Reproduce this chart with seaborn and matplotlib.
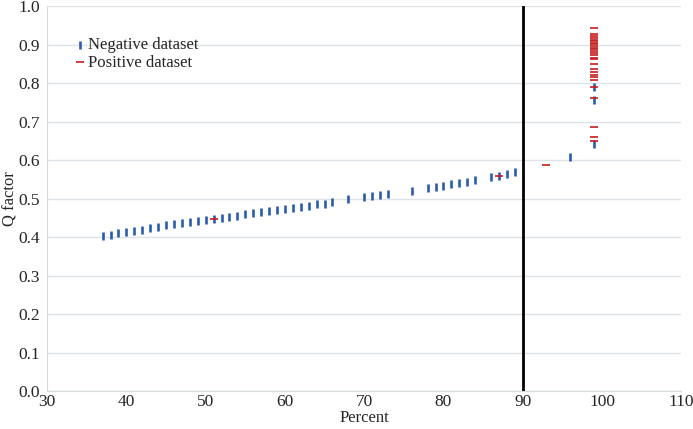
import seaborn as sns
import matplotlib.pyplot as plt
import pandas as pd

# negative dataset (percent, Q factor)
neg_x = [37, 38, 39, 40, 41, 42, 43, 44, 45, 46, 47, 48, 49, 50, 51, 52, 53, 54, 55, 56,
         57, 58, 59, 60, 61, 62, 63, 64, 65, 66, 68, 70, 71, 72, 73, 76, 78, 79, 80, 81,
         82, 83, 84, 86, 87, 88, 89, 96, 99, 99, 99]
neg_q = [0.402, 0.406, 0.410, 0.413, 0.417, 0.419, 0.423, 0.427, 0.431, 0.435, 0.438,
         0.440, 0.442, 0.445, 0.447, 0.450, 0.453, 0.456, 0.459, 0.463, 0.465, 0.468,
         0.471, 0.473, 0.475, 0.478, 0.481, 0.485, 0.487, 0.491, 0.498, 0.503, 0.506,
         0.509, 0.513, 0.521, 0.527, 0.531, 0.534, 0.537, 0.540, 0.544, 0.548, 0.555,
         0.559, 0.564, 0.568, 0.607, 0.790, 0.755, 0.643]

# positive dataset
pos_x = [51, 87, 93] + [99] * 27
pos_q = [0.447, 0.559, 0.588,
         0.944, 0.927, 0.922, 0.918, 0.913, 0.909, 0.905, 0.901, 0.897, 0.892, 0.888,
         0.884, 0.878, 0.872, 0.866, 0.862, 0.850, 0.836, 0.829, 0.822, 0.816, 0.808,
         0.790, 0.760, 0.685, 0.659, 0.650]

cutoff = 90

neg_df = pd.DataFrame({'Percent': neg_x, 'Q': neg_q})
pos_df = pd.DataFrame({'Percent': pos_x, 'Q': pos_q})

sns.set_style('white')
plt.rcParams['font.family'] = ['Liberation Serif', 'DejaVu Serif']

fig = plt.figure(figsize=(6.93, 4.29), dpi=100)
ax = fig.add_axes([0.068, 0.088, 0.915, 0.898])

ax.grid(axis='y', color='#dde3e6', linewidth=1)
ax.set_axisbelow(True)

sns.scatterplot(data=neg_df, x='Percent', y='Q', marker='|', s=30, linewidth=1.9,
                color='#2a5cae', label='Negative dataset', ax=ax, zorder=3)
sns.scatterplot(data=pos_df, x='Percent', y='Q', marker='_', s=30, linewidth=1.2,
                color='#c81e1e', label='Positive dataset', ax=ax, zorder=3)

ax.axvline(cutoff, ymin=0, ymax=1, color='black', linewidth=2, zorder=4)

ax.set_xlim(30, 110)
ax.set_ylim(0, 1.0)
ax.set_xticks(range(30, 111, 10))
ax.set_yticks([i / 10 for i in range(11)])
ax.set_yticklabels([f'{i / 10:.1f}' for i in range(11)])
ax.tick_params(labelsize=12.5, length=0)
ax.tick_params(axis='y', pad=5)
ax.tick_params(axis='x', pad=2)
ax.set_xlabel('Percent', fontsize=12, labelpad=0)
ax.set_ylabel('Q factor', fontsize=12, labelpad=0)

for side in ['top', 'right']:
    ax.spines[side].set_visible(False)
for side in ['left', 'bottom']:
    ax.spines[side].set_color('#d5dadd')

ax.legend(loc='upper left', bbox_to_anchor=(0.02, 0.95), frameon=False, fontsize=12,
          handletextpad=0.0, borderpad=0.2, labelspacing=0.1, handlelength=1.0)

plt.savefig('out.png', dpi=100)
